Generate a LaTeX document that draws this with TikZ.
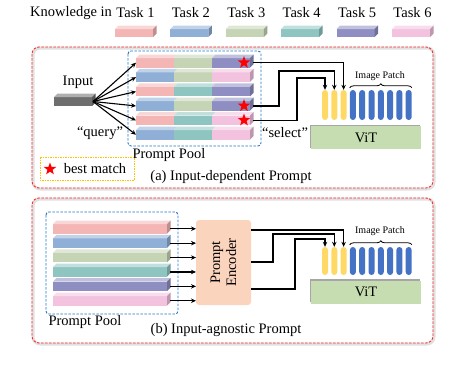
\documentclass[tikz,border=0pt]{standalone}
\usepackage{fontspec}
\setmainfont{Liberation Serif}
\usetikzlibrary{shapes.geometric,arrows.meta,decorations.pathreplacing,calc}
\definecolor{t1}{HTML}{F4B6B5}
\definecolor{t2}{HTML}{8FAFD7}
\definecolor{t3}{HTML}{C4D4B4}
\definecolor{t4}{HTML}{8EC5C0}
\definecolor{t5}{HTML}{8E8EC3}
\definecolor{t6}{HTML}{F2C2DF}
\definecolor{ingray}{HTML}{6E6E6E}
\definecolor{tokyel}{HTML}{FFD966}
\definecolor{tokblu}{HTML}{4472C4}
\definecolor{vitgreen}{HTML}{C5DDB0}
\definecolor{encpeach}{HTML}{FAD4BC}
\definecolor{poolblue}{HTML}{2378C8}
\definecolor{boxred}{HTML}{FF2A2A}
\definecolor{matchgold}{HTML}{FFC000}
\def\dd{3.5}
\newcommand\segbar[5]{%
  \fill[#5] (#1,#2) rectangle ++(#3,#4);
  \fill[#5!55!white] (#1,#2) -- ++(\dd,-\dd) -- ++(#3,0) -- ++(-\dd,\dd) -- cycle;}
\newcommand\sideface[4]{%
  \fill[#4!78!black] (#1,#2) -- ++(\dd,-\dd) -- ++(0,#3) -- ++(-\dd,\dd) -- cycle;}
\begin{document}
\begin{tikzpicture}[x=1pt,y=-1pt,
  font=\fontsize{14.5}{16}\selectfont,
  arr/.style={-{Stealth[length=5pt,width=4.5pt]}, line width=1.1pt},
  redbox/.style={draw=boxred, dash pattern=on 2.5pt off 1.5pt, line width=0.9pt, rounded corners=7pt},
  redshadow/.style={draw=black!12, line width=3pt, rounded corners=7pt},
  poolbox/.style={draw=poolblue, dash pattern=on 2.5pt off 1.5pt, line width=0.9pt, rounded corners=3pt},
  matchbox/.style={draw=matchgold, dash pattern=on 1.5pt off 1pt, line width=0.9pt},
  starmark/.style={star, star points=5, star point ratio=2.4, fill=red, minimum size=13pt, inner sep=0pt},
  tokenA/.style={rounded corners=3pt, minimum width=6pt, minimum height=30pt, inner sep=0pt},
  tokenB/.style={rounded corners=3pt, minimum width=6pt, minimum height=28pt, inner sep=0pt},
  vitbox/.style={fill=vitgreen, minimum width=110pt, minimum height=23pt, inner sep=0pt},
  vitshadow/.style={fill=black!35, minimum width=110pt, minimum height=23pt, inner sep=0pt},
  encbox/.style={fill=encpeach, rounded corners=3pt, minimum width=55pt, minimum height=85pt, inner sep=0pt},
  patchlabel/.style={font=\fontsize{10}{12}\selectfont},
  pbrace/.style={decorate, decoration={brace, amplitude=4pt}, line width=0.8pt}
]
\useasboundingbox (0,0) rectangle (465,367);

% ---------- legend ----------
\node (kn) at (71,13) {Knowledge in};
\foreach \k/\c in {1/t1,2/t2,3/t3,4/t4,5/t5,6/t6}{
  \pgfmathsetmacro\xx{115+55.4*(\k-1)}
  \node (task\k) at (\xx+20.5,13) {Task \k};
  \segbar{\xx}{29}{38}{8}{\c}
  \sideface{\xx+38}{29}{8}{\c}
}

% ---------- (a) frame ----------
\draw[redshadow] (33,48) rectangle (434,189);
\draw[redbox] (32,47) rectangle (433,188);
\draw[poolbox] (128,51) rectangle (261,146);

% input block
\segbar{54}{97}{38}{9}{ingray}
\sideface{92}{97}{9}{ingray}
\coordinate (inp) at (93,101.5);
\node (inlabel) at (78,82) {Input};

% prompt rows (a)
\foreach \i/\ca/\cb/\cc in {0/t1/t3/t5,1/t2/t3/t6,2/t1/t4/t5,3/t2/t3/t5,4/t1/t4/t6,5/t2/t4/t6}{
  \pgfmathsetmacro\yy{58+14.4*\i}
  \segbar{136}{\yy}{38}{9.5}{\ca}
  \segbar{174}{\yy}{38}{9.5}{\cb}
  \segbar{212}{\yy}{38}{9.5}{\cc}
  \sideface{250}{\yy}{9.5}{\cc}
  \coordinate (ras\i) at (136,\yy+4.75);
  \coordinate (rae\i) at (253,\yy+4.75);
}
\foreach \i in {0,...,5}{ \draw[arr] (inp) -- (ras\i); }

\node[starmark] (s0) at (244,62.5) {};
\node[starmark] (s3) at (244,105.7) {};
\node[starmark] (s4) at (244,120.1) {};

\node (query) at (100,133) {“query”};
\node (poola) at (169,155) {Prompt Pool};
\node (select) at (285,133) {“select”};

% best match legend
\draw[matchbox] (40,157) rectangle (134,180);
\node[starmark] (sm) at (50,169) {};
\node (bm) at (95,168.5) {best match};
\node (capa) at (231,177) {(a) Input-dependent Prompt};

% tokens (a)
\foreach \j in {1,2,3}{
  \pgfmathsetmacro\tx{325+9.3*(\j-1)}
  \node[tokenA, fill=tokyel] (ya\j) at (\tx,105) {};
}
\foreach \j in {1,...,7}{
  \pgfmathsetmacro\tx{352.9+9.3*(\j-1)}
  \node[tokenA, fill=tokblu] (pa\j) at (\tx,105) {};
}
\draw[pbrace] (pa1.north west) ++(0,-2) coordinate (bla) -- ($(pa7.north east)+(0,-2)$) coordinate (bra);
\node[patchlabel] (ipa) at (380,76) {Image Patch};
\node[vitshadow] (vitas) at (364.5,136) {};
\node[vitbox] (vita) at (366,137.5) {ViT};

% select connectors (a)
\draw[arr] (rae0) -| (ya3.north);
\coordinate (ka4) at (279,71);
\draw[arr] (rae3) -| (ka4) -| (ya2.north);
\coordinate (ka5) at (297,78);
\draw[arr] (rae4) -| (ka5) -| (ya1.north);

% ---------- (b) frame ----------
\draw[redshadow] (33,199) rectangle (434,344);
\draw[redbox] (32,198) rectangle (433,343);
\draw[poolbox] (46,212) rectangle (178,314);

\foreach \i/\c in {0/t1,1/t2,2/t3,3/t4,4/t5,5/t6}{
  \pgfmathsetmacro\yy{224+14.4*\i}
  \segbar{53}{\yy}{114}{9.5}{\c}
  \sideface{167}{\yy}{9.5}{\c}
  \coordinate (rbe\i) at (170,\yy+4.75);
  \coordinate (rbt\i) at (196,\yy+4.75);
}
\node[encbox] (enc) at (223.5,262.5) {};
\node[rotate=90, align=center] (enctext) at (enc.center) {Prompt\\Encoder};
\foreach \i in {0,...,5}{ \draw[arr] (rbe\i) -- (rbt\i); }

\node (poolb) at (85,322) {Prompt Pool};
\node (capb) at (226,330) {(b) Input-agnostic Prompt};

% tokens (b)
\foreach \j in {1,2,3}{
  \pgfmathsetmacro\tx{325+9.3*(\j-1)}
  \node[tokenB, fill=tokyel] (yb\j) at (\tx,261) {};
}
\foreach \j in {1,...,7}{
  \pgfmathsetmacro\tx{352.9+9.3*(\j-1)}
  \node[tokenB, fill=tokblu] (pb\j) at (\tx,261) {};
}
\draw[pbrace] (pb1.north west) ++(0,-2) coordinate (blb) -- ($(pb7.north east)+(0,-2)$) coordinate (brb);
\node[patchlabel] (ipb) at (380,231) {Image Patch};
\node[vitshadow] (vitbs) at (364.5,290.5) {};
\node[vitbox] (vitb) at (366,292) {ViT};

% encoder outputs
\coordinate (eo1) at (251,230);
\coordinate (eo2) at (251,262);
\coordinate (eo3) at (251,289);
\draw[arr] (eo1) -| (yb3.north);
\coordinate (kb2) at (273,234);
\draw[arr] (eo2) -| (kb2) -| (yb2.north);
\coordinate (kb3) at (295,239);
\draw[arr] (eo3) -| (kb3) -| (yb1.north);
\end{tikzpicture}
\end{document}
